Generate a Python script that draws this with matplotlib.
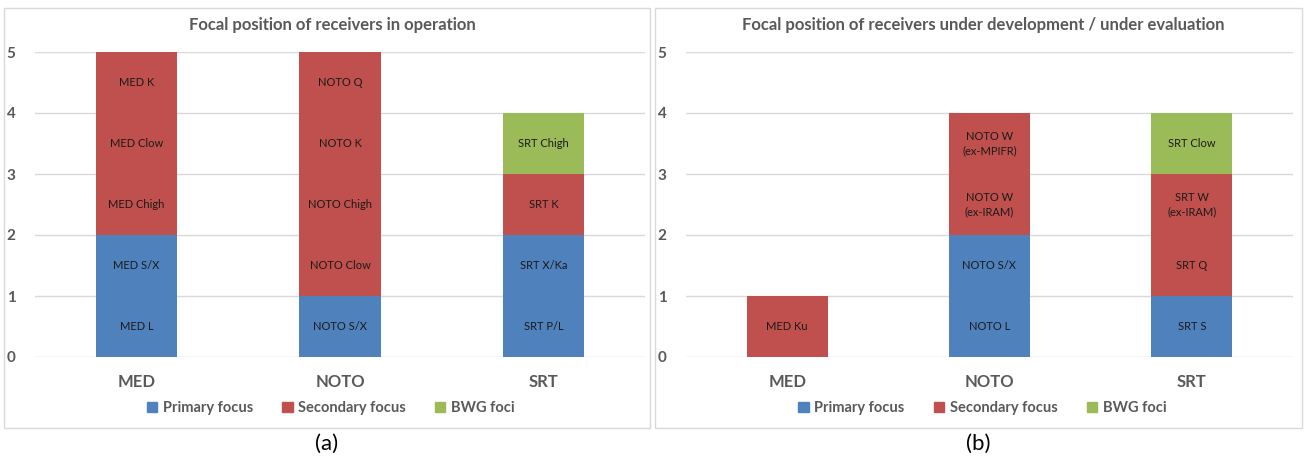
import matplotlib.pyplot as plt
from matplotlib.patches import Rectangle, Patch

plt.rcParams['font.family'] = ['Lato', 'DejaVu Sans']

telescopes = ['MED', 'NOTO', 'SRT']
focus_names = ['Primary focus', 'Secondary focus', 'BWG foci']
colors = ['#4F81BD', '#C0504D', '#9BBB59']

# receivers in operation, one unit each, bottom to top
op_primary = [['MED L', 'MED S/X'], ['NOTO S/X'], ['SRT P/L', 'SRT X/Ka']]
op_secondary = [['MED Chigh', 'MED Clow', 'MED K'],
                ['NOTO Clow', 'NOTO Chigh', 'NOTO K', 'NOTO Q'],
                ['SRT K']]
op_bwg = [[], [], ['SRT Chigh']]

# receivers under development / evaluation
dev_primary = [[], ['NOTO L', 'NOTO S/X'], ['SRT S']]
dev_secondary = [['MED Ku'],
                 ['NOTO W\n(ex-IRAM)', 'NOTO W\n(ex-MPIFR)'],
                 ['SRT Q', 'SRT W\n(ex-IRAM)']]
dev_bwg = [[], [], ['SRT Clow']]

titles = ['Focal position of receivers in operation',
          'Focal position of receivers under development / under evaluation']
panel_tags = ['(a)', '(b)']

W, H = 1304, 459
fig = plt.figure(figsize=(W / 100, H / 100), dpi=100)

axes_px = [(35, 645), (686, 1293)]
frames_px = [(4, 650), (655, 1302)]
top_px, bottom_px = 52, 357

panels = [(op_primary, op_secondary, op_bwg), (dev_primary, dev_secondary, dev_bwg)]

for k, (groups, title, tag) in enumerate(zip(panels, titles, panel_tags)):
    x0, x1 = axes_px[k]
    ax = fig.add_axes([x0 / W, 1 - bottom_px / H, (x1 - x0) / W, (bottom_px - top_px) / H])
    for i, tel in enumerate(telescopes):
        bottom = 0
        for g, group in enumerate(groups):
            for name in group[i]:
                ax.bar(i, 1, bottom=bottom, width=0.4, color=colors[g], linewidth=0)
                ax.text(i, bottom + 0.5, name, ha='center', va='center', fontsize=8,
                        color='#1a1a1a', linespacing=1.3)
                bottom += 1
    ax.set_xlim(-0.5, 2.5)
    ax.set_ylim(0, 5)
    ax.set_yticks(range(6))
    ax.set_xticks(range(3))
    ax.set_xticklabels(telescopes, fontsize=12, fontweight='bold', color='#595959')
    ax.tick_params(axis='y', labelsize=11, labelcolor='#595959', length=0, pad=14)
    ax.tick_params(axis='x', length=0, pad=12)
    for lab in ax.get_yticklabels():
        lab.set_fontweight('bold')
    ax.grid(axis='y', color='#D9D9D9', linewidth=1)
    ax.set_axisbelow(True)
    for s in ax.spines.values():
        s.set_visible(False)

    fx0, fx1 = frames_px[k]
    fig.patches.append(Rectangle((fx0 / W, 1 - 428 / H), (fx1 - fx0) / W, 420 / H,
                                 transform=fig.transFigure, fill=False,
                                 edgecolor='#D9D9D9', linewidth=1))
    cx = (fx0 + fx1) / 2 / W
    fig.text(cx + 0.004, 1 - 25 / H, title, ha='center', va='center', fontsize=12,
             fontweight='bold', color='#595959')
    handles = [Patch(color=c) for c in colors]
    leg = fig.legend(handles, focus_names, loc='center', bbox_to_anchor=(cx + 0.003, 1 - 408 / H),
                     ncol=3, frameon=False, handlelength=0.7, handleheight=0.7,
                     handletextpad=0.4, columnspacing=2.0,
                     prop={'size': 10.5, 'weight': 'bold'})
    for t in leg.get_texts():
        t.set_color('#595959')
    fig.text(cx, 1 - 444 / H, tag, ha='center', va='center', fontsize=16, color='#000000')

fig.savefig('out.png', dpi=100, facecolor='white')
